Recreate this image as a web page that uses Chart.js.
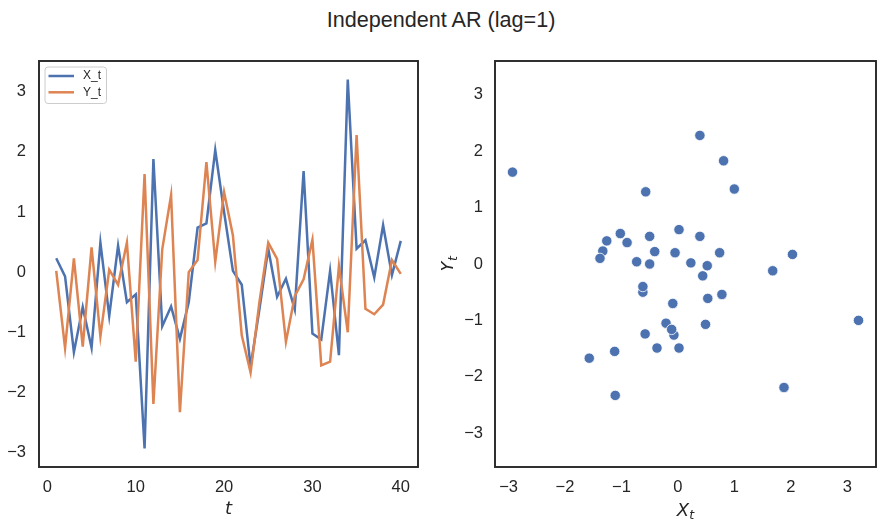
<!DOCTYPE html>
<html>
<head>
<meta charset="utf-8">
<script src="https://cdn.jsdelivr.net/npm/chart.js@4.4.0/dist/chart.umd.min.js"></script>
<style>
  body { margin: 0; background: #fff; width: 882px; height: 527px; position: relative; overflow: hidden; }
  #title { position: absolute; left: 0; top: 7.5px; width: 882px; text-align: center;
           font: 21.6px "Liberation Sans", Arial, sans-serif; line-height: 24px; color: #262626; }
  .box { position: absolute; top: 0; width: 441px; height: 527px; }
</style>
</head>
<body>
<div id="title">Independent AR (lag=1)</div>
<div class="box" style="left:0"><canvas id="lineChart" width="441" height="527"></canvas></div>
<div class="box" style="left:441px"><canvas id="scatterChart" width="441" height="527"></canvas></div>
<script>
// time index and the two series
const tValues = [1, 2, 3, 4, 5, 6, 7, 8, 9, 10, 11, 12, 13, 14, 15, 16, 17, 18, 19, 20,
                 21, 22, 23, 24, 25, 26, 27, 28, 29, 30, 31, 32, 33, 34, 35, 36, 37, 38, 39, 40];
const xValues = [0.23, -0.07, -1.33, -0.58, -1.26, 0.49, -0.73, 0.44, -0.50, -0.37,
                 -2.93, 1.88, -0.90, -0.57, -1.11, -0.50, 0.74, 0.81, 2.03, 1.00,
                 0.02, -0.21, -1.57, -0.62, 0.39, -0.41, -0.11, -0.62, 1.68, -1.02,
                 -1.12, 0.02, -1.38, 3.20, 0.39, 0.53, -0.09, 0.78, -0.05, 0.52];
const yValues = [0.02, -1.26, 0.23, -1.24, 0.41, -1.07, 0.04, -0.21, 0.49, -1.49,
                 1.63, -2.19, 0.38, 1.28, -2.33, 0.00, 0.20, 1.83, 0.17, 1.33,
                 0.61, -1.05, -1.67, -0.50, 0.49, 0.22, -1.16, -0.40, -0.12, 0.54,
                 -1.55, -1.49, 0.10, -1.00, 2.28, -0.61, -0.70, -0.54, 0.20, -0.03];
const tTicks = [0, 10, 20, 30, 40];
const valueTicks = [-3, -2, -1, 0, 1, 2, 3];

const BLUE = '#4c72b0';
const ORANGE = '#dd8452';
const INK = '#262626';
const tickFont = { family: '"Liberation Sans", Arial, sans-serif', size: 16.5 };

const fmt = v => (v < 0 ? '\u2212' + Math.abs(v) : String(v));

function fixedTicks(list) {
  return s => { s.ticks = list.map(v => ({ value: v })); };
}

// draws "base" in italics with a smaller subscript, like matplotlib mathtext
function mathLabel(ctx, base, sub, cx, baseline, rotate) {
  ctx.save();
  ctx.fillStyle = INK;
  ctx.textBaseline = 'alphabetic';
  ctx.translate(cx, baseline);
  if (rotate) ctx.rotate(-Math.PI / 2);
  ctx.font = 'italic 18px "DejaVu Sans"';
  const w1 = ctx.measureText(base).width;
  ctx.font = 'italic 12.6px "DejaVu Sans"';
  const w2 = sub ? ctx.measureText(sub).width : 0;
  const start = -(w1 + w2) / 2;
  ctx.font = 'italic 18px "DejaVu Sans"';
  ctx.fillText(base, start, 0);
  if (sub) {
    ctx.font = 'italic 12.6px "DejaVu Sans"';
    ctx.fillText(sub, start + w1, 3.5);
  }
  ctx.restore();
}

const framePlugin = {
  id: 'frame',
  afterDatasetsDraw(chart) {
    const { ctx, chartArea: a } = chart;
    ctx.save();
    ctx.strokeStyle = INK;
    ctx.lineWidth = 1.9;
    ctx.strokeRect(a.left, a.top, a.right - a.left, a.bottom - a.top);
    ctx.restore();
  }
};

const lineLegend = {
  id: 'lineLegend',
  afterDraw(chart) {
    const { ctx, chartArea: a } = chart;
    const x0 = a.left + 6, y0 = a.top + 6;
    ctx.save();
    ctx.beginPath();
    ctx.roundRect(x0, y0, 61.5, 36.5, 3);
    ctx.fillStyle = 'rgba(255,255,255,0.8)';
    ctx.fill();
    ctx.strokeStyle = '#cccccc';
    ctx.lineWidth = 1;
    ctx.stroke();
    chart.data.datasets.forEach((ds, i) => {
      const y = y0 + 9 + i * 16.3;
      ctx.strokeStyle = ds.borderColor;
      ctx.lineWidth = 2.5;
      ctx.beginPath();
      ctx.moveTo(x0 + 3.5, y);
      ctx.lineTo(x0 + 29, y);
      ctx.stroke();
      ctx.fillStyle = INK;
      ctx.font = '12px "Liberation Sans", Arial, sans-serif';
      ctx.textBaseline = 'middle';
      ctx.fillText(ds.label, x0 + 38, y);
    });
    const cx = (a.left + a.right) / 2;
    mathLabel(ctx, 't', '', cx, 514, false);
    ctx.restore();
  }
};

const scatterLabels = {
  id: 'scatterLabels',
  afterDraw(chart) {
    const { ctx, chartArea: a } = chart;
    mathLabel(ctx, 'X', 't', (a.left + a.right) / 2, 515.5, false);
    mathLabel(ctx, 'Y', 't', 453.3 - 441, (a.top + a.bottom) / 2, true);
  }
};

function axis(min, max, ticks, pad, extra) {
  return Object.assign({
    type: 'linear',
    min: min,
    max: max,
    grid: { display: false, drawTicks: false },
    border: { display: false },
    ticks: { font: tickFont, color: INK, padding: pad, callback: fmt },
    afterBuildTicks: fixedTicks(ticks)
  }, extra);
}

new Chart(document.getElementById('lineChart'), {
  type: 'line',
  data: {
    datasets: [
      {
        label: 'X_t',
        data: tValues.map((t, i) => ({ x: t, y: xValues[i] })),
        borderColor: BLUE,
        borderWidth: 2.5,
        pointRadius: 0,
        tension: 0,
        order: 2
      },
      {
        label: 'Y_t',
        data: tValues.map((t, i) => ({ x: t, y: yValues[i] })),
        borderColor: ORANGE,
        borderWidth: 2.5,
        pointRadius: 0,
        tension: 0,
        order: 1
      }
    ]
  },
  options: {
    responsive: false,
    animation: false,
    devicePixelRatio: 1,
    layout: { padding: { left: 0, right: 23, top: 61, bottom: 0 } },
    plugins: { legend: { display: false }, tooltip: { enabled: false } },
    scales: {
      x: axis(-0.95, 41.95, tTicks, 11, { afterFit: s => { s.height = 60; } }),
      y: axis(-3.24, 3.51, valueTicks, 13, { afterFit: s => { s.width = 39; } })
    }
  },
  plugins: [framePlugin, lineLegend]
});
new Chart(document.getElementById('scatterChart'), {
  type: 'scatter',
  data: {
    datasets: [{
      label: 'AR pairs',
      data: xValues.map((x, i) => ({ x: x, y: yValues[i] })),
      backgroundColor: BLUE,
      borderColor: '#ffffff',
      borderWidth: 0.8,
      pointRadius: 5.2
    }]
  },
  options: {
    responsive: false,
    animation: false,
    devicePixelRatio: 1,
    layout: { padding: { left: 14, right: 6, top: 61, bottom: 0 } },
    plugins: { legend: { display: false }, tooltip: { enabled: false } },
    scales: {
      x: axis(-3.24, 3.51, valueTicks, 11, { afterFit: s => { s.height = 60; } }),
      y: axis(-3.6, 3.6, valueTicks, 12, { afterFit: s => { s.width = 40; } })
    }
  },
  plugins: [framePlugin, scatterLabels]
});
</script>
</body>
</html>
